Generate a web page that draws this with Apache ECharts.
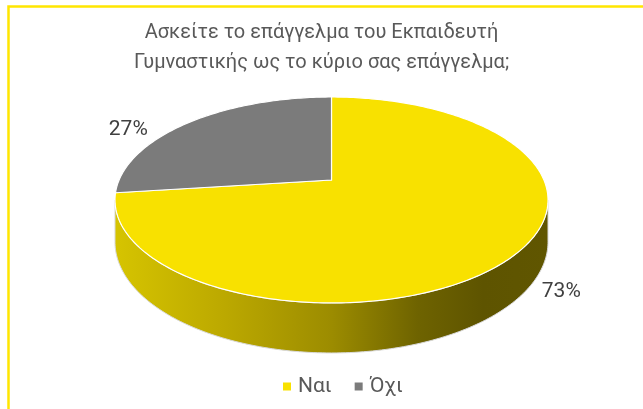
<!DOCTYPE html>
<html><head><meta charset="utf-8">
<script src="https://cdn.jsdelivr.net/npm/echarts@6/dist/echarts.min.js"></script>
<style>html,body{margin:0;padding:0;background:#fff}#c{width:643px;height:409px}</style>
</head><body><div id="c"></div>
<script>
// ---- data ----
const titleLines = ['Ασκείτε το επάγγελμα του Εκπαιδευτή', 'Γυμναστικής ως το κύριο σας επάγγελμα;'];
const categories = ['Ναι', 'Όχι'];
const values = [73, 27];

// ---- style ----
const colors = ['#F8E100', '#7B7B7B'];
const FONT = 'Roboto';
const geo = { cx: 331.5, cy: 180, A: 212.4, B: 99.1, k: 0.194, T: 40.3 };
const labelNudge = [[47, 37], [-62, 8]];

const total = values.reduce((a, b) => a + b, 0);
const starts = [];
{ let acc = 0; values.forEach(v => { starts.push(acc); acc += v; }); }

function proj(thetaDeg, drop) {
  const t = thetaDeg * Math.PI / 180;
  const u = Math.sin(t), v = -Math.cos(t);
  const f = 1 / (1 - geo.k * v);
  return [geo.cx + geo.A * u * f, geo.cy + geo.B * v * f + (drop || 0) * f];
}
function arc(a0, a1, drop) {
  const pts = [];
  const n = Math.max(2, Math.ceil(Math.abs(a1 - a0)));
  for (let i = 0; i <= n; i++) pts.push(proj(a0 + (a1 - a0) * i / n, drop));
  return pts;
}
// visible side range (front part of the rim)
const visLo = 90 + Math.asin(geo.k) * 180 / Math.PI;
const visHi = 270 - Math.asin(geo.k) * 180 / Math.PI;

const sideGrad = new echarts.graphic.LinearGradient(geo.cx - geo.A * 1.02, 0, geo.cx + geo.A * 1.02, 0, [
  { offset: 0, color: '#D6C400' },
  { offset: 0.25, color: '#BCA900' },
  { offset: 0.5, color: '#9C8C00' },
  { offset: 0.7, color: '#6E6300' },
  { offset: 0.85, color: '#5E5400' },
  { offset: 1, color: '#605600' }
], true);

function makeSeries(idx) {
  return {
    type: 'custom',
    name: categories[idx],
    coordinateSystem: 'none',
    itemStyle: { color: colors[idx] },
    data: [values[idx]],
    renderItem: function (params, api) {
      const val = api.value(0);
      const a0 = starts[idx] / total * 360;
      const a1 = a0 + val / total * 360;
      const children = [];
      const s0 = Math.max(a0, visLo), s1 = Math.min(a1, visHi);
      if (s1 > s0) {
        const top = arc(s0, s1, 0);
        const bot = arc(s1, s0, geo.T);
        children.push({
          type: 'polygon', z2: 1,
          shape: { points: top.concat(bot) },
          style: { fill: sideGrad, stroke: '#D9D9D9', lineWidth: 1 }
        });
      }
      const face = [[geo.cx, geo.cy]].concat(arc(a0, a1, 0));
      children.push({
        type: 'polygon', z2: 2,
        shape: { points: face },
        style: { fill: colors[idx], stroke: '#FFFFFF', lineWidth: 1.2 }
      });
      const mid = (a0 + a1) / 2;
      const p = proj(mid, 0);
      children.push({
        type: 'text', z2: 3,
        style: {
          text: Math.round(val / total * 100) + '%',
          x: p[0] + labelNudge[idx][0], y: p[1] + labelNudge[idx][1],
          fill: '#404040', fontSize: 21, fontFamily: FONT,
          align: 'center', verticalAlign: 'middle'
        }
      });
      return { type: 'group', children: children };
    }
  };
}

const chart = echarts.init(document.getElementById('c'));
chart.setOption({
  animation: false,
  backgroundColor: '#fff',
  title: {
    text: titleLines.join('\n'),
    left: 'center', top: 13,
    textStyle: { fontSize: 20, fontWeight: 'normal', color: '#595959', fontFamily: FONT, lineHeight: 30 }
  },
  legend: {
    data: categories,
    bottom: 7, left: 278,
    icon: 'rect', itemWidth: 8, itemHeight: 8, itemGap: 23,
    textStyle: { fontSize: 21, color: '#595959', fontFamily: FONT, padding: [0, 0, 0, 2] }
  },
  graphic: [{
    type: 'rect', silent: true,
    shape: { x: 8.5, y: 6.5, width: 700, height: 500 },
    style: { fill: 'none', stroke: '#FFE600', lineWidth: 2.5 }
  }],
  series: categories.map((c, i) => makeSeries(i))
});
</script>
</body></html>
